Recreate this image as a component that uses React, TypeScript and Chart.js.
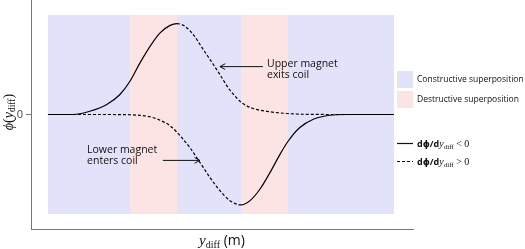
import { useEffect, useRef } from "react";
import { Chart, registerables } from "chart.js";

Chart.register(...registerables);

// Horizontal position across the shaded span (arbitrary units, 0..100); vertical: normalised flux
const topCurveX = [0, 7.2, 12.1, 17.0, 20.8, 23.7, 26.6, 29.5, 32.4, 35.3, 37.3, 39.6, 42.0, 44.9, 47.8, 49.7, 52.1, 54.5, 56.0, 59.3, 64.2, 69.0, 73.7, 85, 100];
const topCurveY = [0, 0, 0.036, 0.11, 0.22, 0.366, 0.568, 0.75, 0.898, 0.981, 1.0, 0.97, 0.88, 0.714, 0.55, 0.44, 0.293, 0.184, 0.129, 0.066, 0.03, 0.011, 0.003, 0, 0];
const bottomCurveX = [0, 15, 23.7, 26.6, 29.5, 32.4, 35.3, 38.2, 41.0, 43.9, 46.8, 49.7, 52.6, 55.8, 58.4, 61.3, 64.2, 67.1, 69.5, 72.8, 76.7, 81.5, 86.3, 100];
const bottomCurveY = [0, 0, -0.003, -0.01, -0.025, -0.063, -0.124, -0.234, -0.363, -0.527, -0.692, -0.838, -0.948, -0.995, -0.948, -0.82, -0.637, -0.436, -0.289, -0.143, -0.052, -0.008, 0, 0];

const bandEdges = [0, 23.7, 37.3, 55.8, 69.4, 100];
const bandTypes = [0, 1, 0, 1, 0];
const bandLabels = ["Constructive superposition", "Destructive superposition"];
const bandColors = ["#e2e2fb", "#fde4e4"];
const bandTop = 1.1;
const bandBottom = -1.09;
const yTickValues = [0];
const xRange = [-4.9, 105.5];
const yRange = [-1.26, 1.26];

const SANS = '"Open Sans", "DejaVu Sans", sans-serif';
const SERIF = '"Liberation Serif", "DejaVu Serif", serif';

type Part = [string, string, number?];

function rich(ctx: CanvasRenderingContext2D, parts: Part[], x: number, y: number, align: "left" | "center") {
  let w = 0;
  for (const p of parts) {
    ctx.font = p[1];
    w += ctx.measureText(p[0]).width;
  }
  let cx = align === "center" ? x - w / 2 : x;
  ctx.textAlign = "left";
  for (const p of parts) {
    ctx.font = p[1];
    ctx.fillText(p[0], cx, y + (p[2] || 0));
    cx += ctx.measureText(p[0]).width;
  }
}

function arrow(ctx: CanvasRenderingContext2D, x0: number, y0: number, x1: number, y1: number) {
  const a = Math.atan2(y1 - y0, x1 - x0);
  const hl = 6;
  const spread = 0.5;
  ctx.beginPath();
  ctx.moveTo(x0, y0);
  ctx.lineTo(x1, y1);
  ctx.moveTo(x1 - hl * Math.cos(a - spread), y1 - hl * Math.sin(a - spread));
  ctx.lineTo(x1, y1);
  ctx.lineTo(x1 - hl * Math.cos(a + spread), y1 - hl * Math.sin(a + spread));
  ctx.stroke();
}

export default function App() {
  const ref = useRef<HTMLCanvasElement>(null);

  useEffect(() => {
    const canvas = ref.current;
    if (!canvas) return;
    const topPeak = topCurveY.indexOf(Math.max(...topCurveY));
    const botMin = bottomCurveY.indexOf(Math.min(...bottomCurveY));

    const decor = {
      id: "decor",
      beforeDatasetsDraw(chart: any) {
        const { ctx } = chart;
        const x = chart.scales.x;
        const y = chart.scales.y;
        ctx.save();
        const y0 = Math.round(y.getPixelForValue(bandTop));
        const y1 = Math.round(y.getPixelForValue(bandBottom));
        for (let i = 0; i < bandTypes.length; i++) {
          const x0 = Math.round(x.getPixelForValue(bandEdges[i]));
          const x1 = Math.round(x.getPixelForValue(bandEdges[i + 1]));
          ctx.fillStyle = bandColors[bandTypes[i]];
          ctx.fillRect(x0, y0, x1 - x0, y1 - y0);
        }
        ctx.restore();
      },
      afterDraw(chart: any) {
        const { ctx } = chart;
        const x = chart.scales.x;
        const y = chart.scales.y;
        ctx.save();
        ctx.fillStyle = "#111";
        ctx.strokeStyle = "#111";
        ctx.lineWidth = 1;

        // annotations
        ctx.textBaseline = "middle";
        ctx.textAlign = "left";
        ctx.font = `10.5px ${SANS}`;
        const ux = x.getPixelForValue(63.3);
        ctx.fillText("Upper magnet", ux, y.getPixelForValue(0.553));
        ctx.fillText("exits coil", ux, y.getPixelForValue(0.44));
        arrow(ctx, x.getPixelForValue(62.1), y.getPixelForValue(0.527), x.getPixelForValue(49.7), y.getPixelForValue(0.527));
        const lx = x.getPixelForValue(11.3);
        ctx.fillText("Lower magnet", lx, y.getPixelForValue(-0.392));
        ctx.fillText("enters coil", lx, y.getPixelForValue(-0.516));
        arrow(ctx, x.getPixelForValue(33.2), y.getPixelForValue(-0.505), x.getPixelForValue(43.9), y.getPixelForValue(-0.505));

        // legend
        const legX = 397;
        const sq = 16;
        ctx.fillStyle = bandColors[0];
        ctx.fillRect(legX, 71, sq, 17);
        ctx.fillStyle = bandColors[1];
        ctx.fillRect(legX, 91, sq, 17);
        ctx.fillStyle = "#111";
        ctx.font = `8.5px ${SANS}`;
        ctx.fillText(bandLabels[0], 417, 80);
        ctx.fillText(bandLabels[1], 417, 99.5);

        ctx.lineWidth = 1.2;
        ctx.beginPath();
        ctx.moveTo(legX, 143.5);
        ctx.lineTo(legX + sq, 143.5);
        ctx.stroke();
        ctx.setLineDash([3, 2]);
        ctx.beginPath();
        ctx.moveTo(legX, 161.5);
        ctx.lineTo(legX + sq, 161.5);
        ctx.stroke();
        ctx.setLineDash([]);

        ctx.textBaseline = "alphabetic";
        const legParts = (op: string): Part[] => [
          ["d", `bold 9px ${SANS}`],
          ["\u03d5", `bold 9px ${SANS}`],
          ["/d", `bold 9px ${SANS}`],
          ["y", `italic 10px ${SERIF}`],
          ["diff", `7px ${SERIF}`, 1.5],
          [` ${op} 0`, `10px ${SERIF}`],
        ];
        rich(ctx, legParts("<"), 417, 147, "left");
        rich(ctx, legParts(">"), 417, 165, "left");

        // axis titles
        const cx = (chart.chartArea.left + chart.chartArea.right) / 2;
        rich(ctx, [
          ["y", `italic 15px ${SERIF}`],
          ["diff", `10px ${SERIF}`, 2.5],
          [" (m)", `14px ${SANS}`],
        ], cx, 245, "center");

        ctx.save();
        ctx.translate(13, 112);
        ctx.rotate(-Math.PI / 2);
        rich(ctx, [
          ["\u03d5", `italic 14px ${SERIF}`],
          ["(", `14px ${SERIF}`],
          ["y", `italic 14px ${SERIF}`],
          ["diff", `9.5px ${SERIF}`, 2],
          [")", `14px ${SERIF}`],
        ], 0, 0, "center");
        ctx.restore();

        ctx.restore();
      },
    };

    const chart = new Chart(canvas, {
      type: "line",
      data: {
        datasets: [
          {
            data: topCurveX.map((v, i) => ({ x: v, y: topCurveY[i] })),
            borderColor: "#000",
            borderWidth: 1.2,
            pointRadius: 0,
            fill: false,
            cubicInterpolationMode: "monotone",
            segment: { borderDash: (c: any) => (c.p0DataIndex >= topPeak ? [3, 2] : undefined) },
          },
          {
            data: bottomCurveX.map((v, i) => ({ x: v, y: bottomCurveY[i] })),
            borderColor: "#000",
            borderWidth: 1.2,
            pointRadius: 0,
            fill: false,
            cubicInterpolationMode: "monotone",
            segment: { borderDash: (c: any) => (c.p0DataIndex < botMin ? [3, 2] : undefined) },
          },
        ],
      },
      options: {
        animation: false,
        responsive: true,
        maintainAspectRatio: false,
        layout: { autoPadding: false, padding: { left: 0, top: 0, right: 112, bottom: 0 } },
        plugins: { legend: { display: false }, tooltip: { enabled: false } },
        scales: {
          x: {
            type: "linear",
            min: xRange[0],
            max: xRange[1],
            grid: { display: false },
            border: { display: true, color: "#777", width: 1 },
            ticks: { display: false },
            afterFit: (s: any) => {
              s.height = 20;
              s.paddingLeft = 0;
              s.paddingRight = 0;
            },
          },
          y: {
            type: "linear",
            min: yRange[0],
            max: yRange[1],
            grid: { display: true, drawOnChartArea: false, drawTicks: true, tickLength: 5, color: "#777" },
            border: { display: true, color: "#777", width: 1 },
            ticks: { color: "#444", font: { size: 11, family: SANS }, padding: 3 },
            afterBuildTicks: (s: any) => {
              s.ticks = yTickValues.map((v) => ({ value: v }));
            },
            afterFit: (s: any) => {
              s.width = 31;
              s.paddingTop = 0;
              s.paddingBottom = 0;
            },
          },
        },
      },
      plugins: [decor],
    } as any);

    return () => chart.destroy();
  }, []);

  return (
    <div style={{ position: "fixed", left: 0, top: 0, width: 525, height: 249 }}>
      <canvas ref={ref} />
    </div>
  );
}
